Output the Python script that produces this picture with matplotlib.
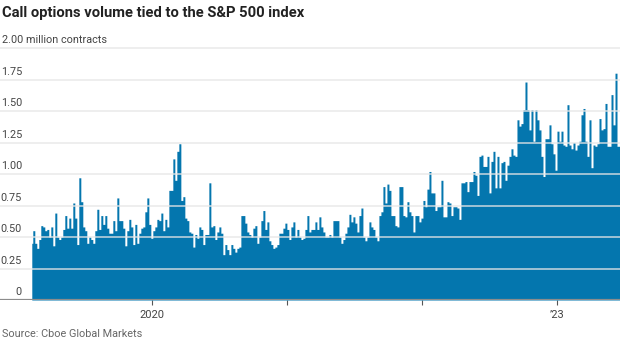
import numpy as np
import pandas as pd
import matplotlib
matplotlib.use('Agg')
import matplotlib.pyplot as plt
import matplotlib.transforms as mtransforms

# call option volume, million contracts (~5-day spacing)
volume = [
    0.45, 0.55, 0.45, 0.41, 0.48, 0.59, 0.58, 0.55, 0.56, 0.50, 0.58, 0.43, 0.69,
    0.50, 0.48, 0.50, 0.56, 0.67, 0.57, 0.65, 0.57, 0.77, 0.65, 0.44, 0.97, 0.78,
    0.58, 0.55, 0.45, 0.50, 0.48, 0.45, 0.55, 0.72, 0.56, 0.67, 0.60, 0.67,
    0.57, 0.53, 0.53, 0.63, 0.55, 0.81, 0.63, 0.63, 0.57, 0.43, 0.55, 0.64, 0.58,
    0.44, 0.60, 0.45, 0.53, 0.57, 0.58, 0.70, 0.81, 0.60, 0.49, 0.55, 0.58, 0.64,
    0.63, 0.69, 0.55, 0.64, 0.58, 0.87, 0.87, 1.12, 0.95, 1.18, 1.24,
    0.79, 0.82, 0.65, 0.63, 0.54, 0.53, 0.42, 0.52, 0.49, 0.58, 0.56, 0.44, 0.52,
    0.52, 0.93, 0.58, 0.59, 0.48, 0.54, 0.58, 0.53, 0.36, 0.44, 0.40, 0.36, 0.44,
    0.41, 0.38, 0.41, 0.42, 0.67, 0.67, 0.61, 0.54, 0.52, 0.50, 0.57,
    0.59, 0.45, 0.50, 0.63, 0.71, 0.56, 0.62, 0.47, 0.44, 0.41, 0.42, 0.44, 0.53,
    0.53, 0.57, 0.61, 0.56, 0.48, 0.58, 0.62, 0.50, 0.56, 0.50, 0.48, 0.49, 0.56,
    0.67, 0.54, 0.56, 0.56, 0.62, 0.56, 0.66, 0.58, 0.54, 0.50, 0.50,
    0.52, 0.50, 0.63, 0.63, 0.63, 0.50, 0.45, 0.48, 0.53, 0.58, 0.68, 0.62, 0.66,
    0.61, 0.54, 0.67, 0.73, 0.50, 0.47, 0.50, 0.62, 0.58, 0.56, 0.50, 0.47, 0.67,
    0.70, 0.90, 0.77, 0.92, 0.87, 0.67, 0.67, 0.59, 0.58, 0.90, 0.90,
    0.67, 0.66, 0.78, 0.70, 0.67, 0.54, 0.67, 0.67, 0.62, 0.65, 0.79, 0.74, 0.88,
    1.02, 0.85, 0.85, 0.71, 0.74, 0.74, 0.95, 0.66, 0.66, 0.78, 0.77, 0.67, 0.74,
    0.74, 0.73, 0.64, 0.93, 0.93, 0.94, 0.86, 0.94, 0.94, 1.02, 0.99,
    0.83, 1.14, 1.15, 1.06, 1.06, 1.14, 0.85, 1.10, 1.18, 0.89, 1.14, 0.89, 1.09,
    1.10, 0.95, 1.07, 1.14, 1.20, 1.15, 1.14, 1.43, 1.38, 1.40, 1.51, 1.73, 1.51,
    1.35, 1.51, 1.26, 1.51, 1.43, 1.35, 1.14, 0.98, 1.28, 1.28, 1.39,
    1.24, 1.16, 1.03, 1.34, 1.26, 1.34, 1.23, 1.22, 1.55, 1.23, 1.20, 1.25, 1.19,
    1.23, 1.26, 1.47, 1.52, 1.26, 1.14, 1.43, 1.05, 1.23, 1.22, 1.24, 1.44, 1.35,
    1.36, 1.56, 1.22, 1.22, 1.63, 1.39, 1.80, 1.22, 1.22,
]
first_day, last_day = '2019-02-10', '2023-06-20'
dates = pd.date_range(first_day, last_day, periods=len(volume))

y_ticks = [0, 0.25, 0.5, 0.75, 1.0, 1.25, 1.5, 1.75]
y_labels = ['0', '0.25', '0.50', '0.75', '1.00', '1.25', '1.50', '1.75']
x_ticks = pd.to_datetime(['2020-01-01', '2021-01-01', '2022-01-01', '2023-01-01'])
x_labels = ['2020', '', '', "\u201923"]

plt.rcParams['font.family'] = ['Roboto', 'DejaVu Sans']

fig = plt.figure(figsize=(6.2, 3.5), dpi=100)
ax = fig.add_axes([0, 50 / 350, 1, 260 / 350])

ax.fill_between(dates, volume, step='mid', color='#0476ae', lw=0, zorder=2)

for v in y_ticks[1:] + [2.0]:
    ax.axhline(v, color='#e6e6e6', alpha=0.74, lw=1.3, zorder=3)
ax.axhline(0, color='#8c8c8c', lw=1.6, zorder=4)

trans = mtransforms.blended_transform_factory(ax.transAxes, ax.transData)
for v, lab in zip(y_ticks, y_labels):
    ax.annotate(lab, (22 / 620, v), xycoords=trans, xytext=(0, 2),
                textcoords='offset points', ha='right', va='bottom',
                fontsize=7.8, color='#444444')
ax.annotate('2.00 million contracts', (2 / 620, 2.0), xycoords=trans,
            xytext=(0, 2), textcoords='offset points', ha='left', va='bottom',
            fontsize=7.8, color='#444444')

ax.set_xlim(pd.Timestamp('2018-11-16'), pd.Timestamp(last_day))
ax.set_ylim(0, 260 / 126)
ax.set_yticks([])
ax.set_xticks(x_ticks)
ax.set_xticklabels(x_labels)
ax.tick_params(axis='x', length=3.5, width=0.8, color='#555555', pad=4,
               labelsize=8, labelcolor='#444444')
for s in ax.spines.values():
    s.set_visible(False)

fig.text(2 / 620, 1 - 17 / 350, 'Call options volume tied to the S&P 500 index',
         fontsize=10.6, fontweight='bold', color='#222222', va='baseline')
fig.text(2 / 620, 13 / 350, 'Source: Cboe Global Markets', fontsize=7.8,
         color='#666666', va='baseline')

fig.savefig('out.png', dpi=100)
